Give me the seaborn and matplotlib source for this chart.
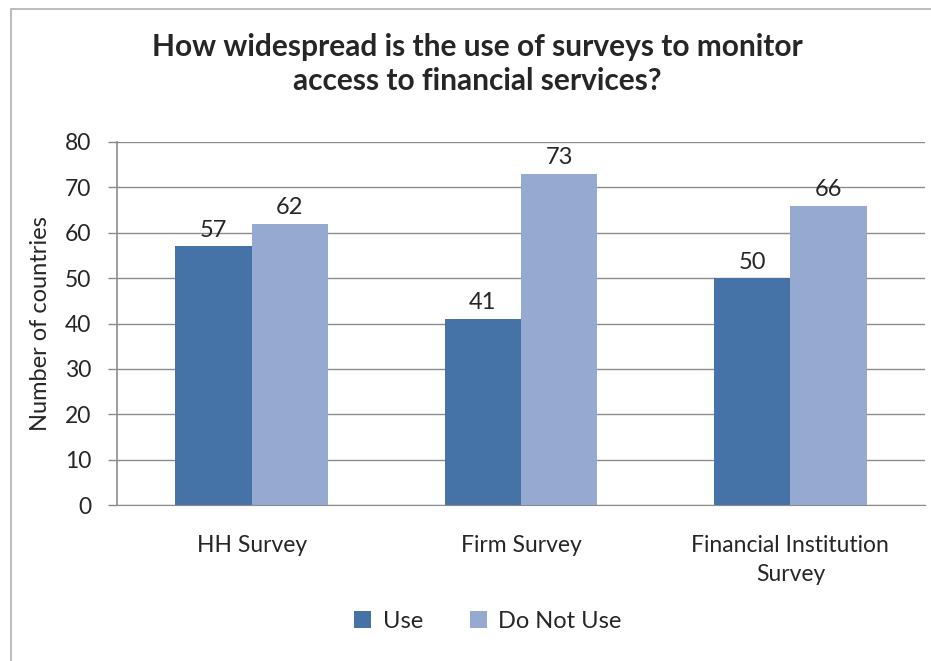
import matplotlib
matplotlib.use("Agg")
import matplotlib.pyplot as plt
import seaborn as sns
import pandas as pd
from matplotlib.patches import Rectangle, Patch

categories = ["HH Survey", "Firm Survey", "Financial Institution\nSurvey"]
series = ["Use", "Do Not Use"]
use_values = [57, 41, 50]
not_use_values = [62, 73, 66]
y_ticks = [0, 10, 20, 30, 40, 50, 60, 70, 80]

colors = {"Use": "#4572A7", "Do Not Use": "#95A9D1"}

df = pd.DataFrame({
    "category": categories * 2,
    "series": [series[0]] * 3 + [series[1]] * 3,
    "value": use_values + not_use_values,
})

sns.set_style("white")
plt.rcParams["font.family"] = ["Lato", "DejaVu Sans"]

fig = plt.figure(figsize=(9.31, 6.61), dpi=100)
ax = fig.add_axes([117 / 931, 1 - 505 / 661, (925 - 117) / 931, (505 - 142) / 661])

sns.barplot(data=df, x="category", y="value", hue="series", order=categories,
            hue_order=series, palette=colors, width=0.566, ax=ax,
            saturation=1, legend=False, edgecolor="none")

ax.set_ylim(0, 80)
ax.set_yticks(y_ticks)
ax.set_xlim(-0.5, 2.5)
ax.yaxis.grid(True, color="#8c8c8c", linewidth=1)
ax.set_axisbelow(True)
for s in ["top", "right"]:
    ax.spines[s].set_visible(False)
ax.spines["left"].set_color("#8c8c8c")
ax.spines["bottom"].set_color("#8c8c8c")
ax.spines["left"].set_linewidth(1.2)
ax.tick_params(axis="y", left=True, length=6.5, width=1, color="#8c8c8c",
               labelsize=16.5, pad=12)
ax.tick_params(axis="x", bottom=False, labelsize=16.5, pad=18)
for lbl in ax.get_xticklabels():
    lbl.set_linespacing(1.5)
ax.set_xlabel("")
ax.set_ylabel("Number of countries", fontsize=17, labelpad=10)

for cont in ax.containers:
    ax.bar_label(cont, fmt="%d", fontsize=17, padding=4)

fig.text(477 / 931, 1 - 64 / 661,
         "How widespread is the use of surveys to monitor\naccess to financial services?",
         ha="center", va="center", fontsize=21.5, fontweight="bold", linespacing=1.3)

handles = [Patch(facecolor=colors[s], edgecolor="none") for s in series]
fig.legend(handles, series, loc="center", bbox_to_anchor=(488 / 931, 1 - 621 / 661),
           ncol=2, frameon=False, fontsize=17, handlelength=0.7, handleheight=0.7,
           columnspacing=2.0, handletextpad=0.5)

fig.patches.append(Rectangle((11 / 931, -0.01), 1.0, 1 - 9 / 661 + 0.01,
                             transform=fig.transFigure, fill=False,
                             edgecolor="#b0b0b0", linewidth=1.2))

fig.savefig("out.png", dpi=100)
